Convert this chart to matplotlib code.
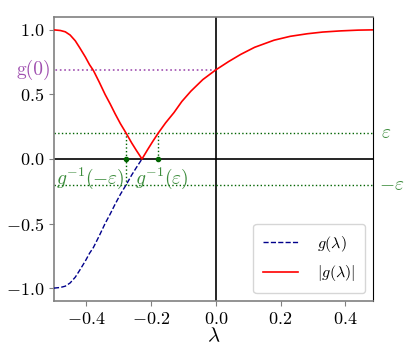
import numpy as np
import matplotlib
matplotlib.use("Agg")
import matplotlib.pyplot as plt
import matplotlib.transforms as mtransforms

plt.rcParams["font.family"] = "serif"
plt.rcParams["font.serif"] = ["cmr10", "DejaVu Serif"]
plt.rcParams["mathtext.fontset"] = "cm"
plt.rcParams["axes.formatter.use_mathtext"] = True

# === data ===
lam = [-0.5, -0.48, -0.465, -0.45, -0.434, -0.42, -0.403, -0.39, -0.378, -0.36,
       -0.342, -0.326, -0.311, -0.295, -0.277, -0.26, -0.245, -0.228,
       -0.21, -0.195, -0.178, -0.155, -0.129, -0.105, -0.077, -0.04, 0.0,
       0.04, 0.077, 0.12, 0.18, 0.23, 0.283, 0.33, 0.385, 0.44, 0.486]
g = [-1.0, -0.995, -0.985, -0.96, -0.915, -0.86, -0.79, -0.73, -0.685, -0.595,
     -0.50, -0.425, -0.35, -0.275, -0.2, -0.125, -0.065, 0.0,
     0.075, 0.135, 0.2, 0.28, 0.36, 0.445, 0.525, 0.615, 0.69,
     0.755, 0.81, 0.865, 0.92, 0.95, 0.97, 0.983, 0.992, 0.998, 1.0]
eps = 0.2
g0 = 0.69
ginv_neg = -0.277
ginv_pos = -0.178

lam = np.array(lam)
g = np.array(g)
green = "darkgreen"
lgreen = "#3c8c3c"
purple = "#a050b0"

fig = plt.figure(figsize=(4.15, 3.46), dpi=100)
ax = fig.add_axes([0.130, 0.130, 0.769, 0.821])

ax.axhline(0, color="black", lw=1.2, zorder=1)
ax.axvline(0, color="black", lw=1.2, zorder=1)

neg = g <= 0
ax.plot(lam[neg], g[neg], color="darkblue", ls="--", lw=1, label=r"$g(\lambda)$", zorder=3)
ax.plot(lam, np.abs(g), color="red", lw=1.2, label=r"$|g(\lambda)|$", zorder=3)

ax.axhline(eps, color=green, ls=":", lw=1, zorder=2)
ax.axhline(-eps, color=green, ls=":", lw=1, zorder=2)
ax.plot([lam[0] - 0.01, 0], [g0, g0], color=purple, ls=":", lw=1.2, zorder=2)
ax.plot([ginv_neg, ginv_neg], [-eps, eps], color=green, ls=":", lw=1, zorder=2)
ax.plot([ginv_pos, ginv_pos], [0, eps], color=green, ls=":", lw=1, zorder=2)
ax.plot([ginv_neg, ginv_pos], [0, 0], "o", color=green, ms=3, zorder=4)

ax.text(ginv_neg - 0.004, -0.15, r"$g^{-1}(-\varepsilon)$", color=lgreen, fontsize=14,
        ha="right", va="center")
ax.text(ginv_pos + 0.01, -0.15, r"$g^{-1}(\varepsilon)$", color=lgreen, fontsize=14,
        ha="center", va="center")

trans = mtransforms.blended_transform_factory(ax.transAxes, ax.transData)
ax.text(1.025, eps, r"$\varepsilon$", color=lgreen, fontsize=14, ha="left", va="center",
        transform=trans)
ax.text(1.02, -eps, r"$-\varepsilon$", color=lgreen, fontsize=14, ha="left", va="center",
        transform=trans)
ax.text(-0.008, g0, "g(0)", color=purple, fontsize=14, ha="right", va="center",
        transform=trans)

ax.set_xlim(-0.5, 0.486)
ax.set_ylim(-1.1, 1.1)
ax.set_xticks([-0.4, -0.2, 0.0, 0.2, 0.4])
ax.set_yticks([-1.0, -0.5, 0.0, 0.5, 1.0])
ax.tick_params(labelsize=13, color="gray")
ax.set_xlabel(r"$\lambda$", fontsize=15, labelpad=0)
for s in ["left", "bottom", "top"]:
    ax.spines[s].set_color("gray")
    ax.spines[s].set_linewidth(1.2)
ax.spines["right"].set_color("black")

ax.legend(loc="lower right", fontsize=11.5, handlelength=2.2, borderpad=0.6,
          labelspacing=0.6, handletextpad=1.2)

fig.savefig("out.png", dpi=100)
